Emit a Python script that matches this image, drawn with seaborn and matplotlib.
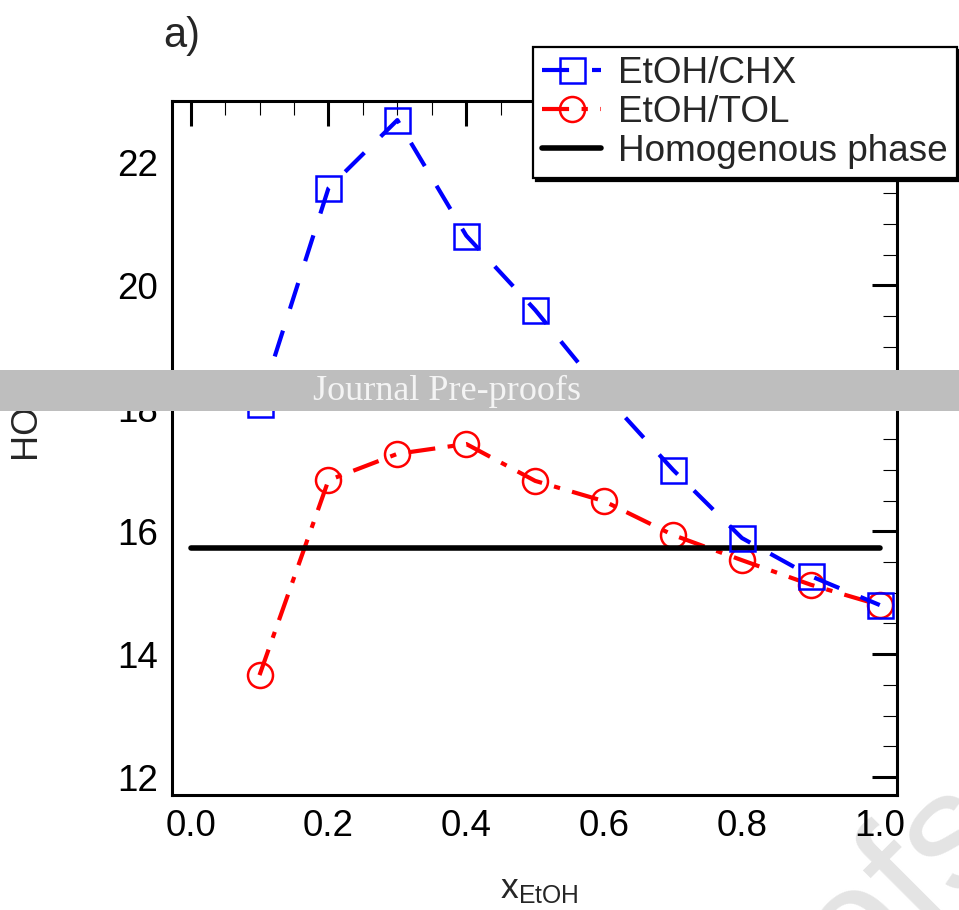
import matplotlib
matplotlib.use("Agg")
import matplotlib.pyplot as plt
import seaborn as sns
from matplotlib.patches import Rectangle
from matplotlib.ticker import MultipleLocator, FormatStrFormatter

# Mole fraction of ethanol and the measured values for each mixture
x_etoh = [0.1, 0.2, 0.3, 0.4, 0.5, 0.6, 0.7, 0.8, 0.9, 1.0]
chx_vals = [18.07, 21.58, 22.69, 20.81, 19.60, 18.23, 17.00, 15.89, 15.27, 14.80]
tol_vals = [13.66, 16.83, 17.26, 17.42, 16.82, 16.49, 15.94, 15.53, 15.13, 14.80]
homog_x = [0.0, 1.0]
homog_y = [15.73, 15.73]
series_labels = ["EtOH/CHX", "EtOH/TOL", "Homogenous phase"]
x_ticks = [0.0, 0.2, 0.4, 0.6, 0.8, 1.0]
y_ticks = [12, 14, 16, 18, 20, 22]

sns.set_style("white")
plt.rcParams["font.family"] = ["Liberation Sans", "DejaVu Sans"]
plt.rcParams["mathtext.fontset"] = "custom"
plt.rcParams["mathtext.rm"] = "Liberation Sans"
plt.rcParams["mathtext.it"] = "Liberation Sans"

W, H = 959, 910
fig = plt.figure(figsize=(W / 100, H / 100), dpi=100)
fig.patch.set_facecolor("white")
ax = fig.add_axes([172 / W, 1 - 795 / H, (897 - 172) / W, (795 - 101) / H])
ax.set_facecolor("none")

# faint diagonal watermark in the lower right corner
fig.text(857 / W, 1 - 995 / H, "ofs", rotation=45, rotation_mode="anchor",
         ha="left", va="baseline", fontsize=120, color="#e4e4e4", zorder=-5)

sns.lineplot(x=x_etoh, y=tol_vals, ax=ax, color="red", lw=3,
             linestyle=(0, (6.5, 3, 1.5, 3)), marker="o", ms=18,
             mfc="none", mec="red", mew=1.8, label=series_labels[1], zorder=3)
sns.lineplot(x=homog_x, y=homog_y, ax=ax, color="black", lw=4,
             label=series_labels[2], zorder=4)
sns.lineplot(x=x_etoh, y=chx_vals, ax=ax, color="blue", lw=3,
             linestyle=(0, (6.5, 5.5)), marker="s", ms=18,
             mfc="none", mec="blue", mew=1.8, label=series_labels[0], zorder=5)

ax.set_xlim(-0.027, 1.025)
ax.set_ylim(11.71, 23.0)
ax.set_xticks(x_ticks)
ax.set_yticks(y_ticks)
ax.xaxis.set_major_formatter(FormatStrFormatter("%.1f"))
ax.xaxis.set_minor_locator(MultipleLocator(0.05))
ax.yaxis.set_minor_locator(MultipleLocator(0.5))
ax.tick_params(which="both", direction="in", top=True, right=True,
               labelsize=26.5, pad=10, colors="black")
ax.tick_params(which="major", length=18, width=2.2)
ax.tick_params(which="minor", length=10, width=0.8)
for sp in ax.spines.values():
    sp.set_linewidth(2.2)
    sp.set_color("black")

ax.set_xlabel(r"$\mathrm{x}_{\mathrm{EtOH}}$", fontsize=25.5)
ax.xaxis.label.set_va("baseline")
ax.xaxis.set_label_coords(0.507, (795 - 898) / 694)

ax.set_ylabel("HOC", fontsize=26)
ax.yaxis.label.set_ha("left")
ax.yaxis.label.set_va("center")
ax.yaxis.label.set_rotation_mode("anchor")
ax.yaxis.set_label_coords((26 - 172) / 725, (795 - 458) / 694)

handles, labels = ax.get_legend_handles_labels()
order = [labels.index(s) for s in series_labels]
leg = ax.legend([handles[i] for i in order], [labels[i] for i in order],
                loc="upper right", bbox_to_anchor=(957 / W, 1 - 47 / H),
                bbox_transform=fig.transFigure, borderaxespad=0,
                fontsize=26.6, labelspacing=0.1, handlelength=1.6,
                handletextpad=0.45, borderpad=0.25, fancybox=False,
                framealpha=1, edgecolor="black",
                shadow={"color": "black", "alpha": 1})
leg.get_frame().set_linewidth(1.6)

fig.text(163 / W, 1 - 47 / H, "a)", fontsize=30, ha="left", va="baseline")

# grey notice band across the figure
fig.add_artist(Rectangle((0, 1 - 411 / H), 1, 41 / H, transform=fig.transFigure,
                         facecolor="#bebebe", edgecolor="none", zorder=10))
fig.text(447 / W, 1 - 400 / H, "Journal Pre-proofs", fontsize=26,
         family=["Liberation Serif", "DejaVu Serif"], color="#f4f4f4",
         ha="center", va="baseline", zorder=11)

fig.savefig("out.png", dpi=100)
